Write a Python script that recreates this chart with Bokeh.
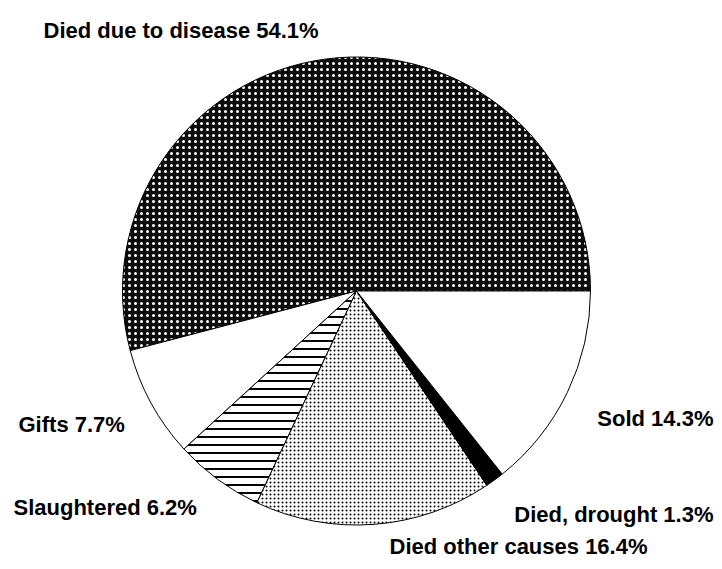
from bokeh.plotting import figure
from bokeh.models import Range1d, ColumnDataSource
from bokeh.core.properties import value
from bokeh.embed import file_html
from bokeh.resources import INLINE
import math

# ---- data ----
categories = ["Died due to disease", "Gifts", "Slaughtered",
              "Died other causes", "Died, drought", "Sold"]
percent = [54.1, 7.7, 6.2, 16.4, 1.3, 14.3]

# ---- styles ----
fills = ["#0c0c0c", "white", "white", "white", "black", "white"]
hatches = ["dot", " ", "horizontal_line", "dot", " ", " "]
hatch_colors = ["white", "black", "black", "black", "black", "black"]
hatch_scales = [6, 8, 8, 4, 8, 8]
hatch_weights = [1.0, 1, 2, 1, 1, 1]

# label layout (screen px: x, vertical centre y, alignment)
label_pos = {
    "Died due to disease": (43, 30, "left"),
    "Gifts": (18, 424, "left"),
    "Slaughtered": (13, 507, "left"),
    "Died other causes": (389, 546, "left"),
    "Died, drought": (713, 514, "right"),
    "Sold": (713, 418, "right"),
}

W, H = 714, 561
p = figure(width=W, height=H, output_backend="svg", toolbar_location=None,
           x_range=Range1d(0, W), y_range=Range1d(0, H),
           min_border=0)
p.axis.visible = False
p.grid.visible = False
p.outline_line_color = None
p.background_fill_color = "white"

total = sum(percent)
starts, ends = [], []
acc = 0.0
for v in percent:
    starts.append(2 * math.pi * acc / total)
    acc += v
    ends.append(2 * math.pi * acc / total)

cx, cy = 356, H - 290.5
src = ColumnDataSource(dict(start=starts, end=ends, fill=fills, hatch=hatches,
                            hc=hatch_colors, hs=hatch_scales, hw=hatch_weights))
p.wedge(x=cx, y=cy, radius=234, start_angle="start", end_angle="end",
        fill_color="fill", line_color="black", line_width=1,
        hatch_pattern="hatch", hatch_color="hc", hatch_scale="hs",
        hatch_weight="hw", source=src)

labels = [f"{c} {v}%" for c, v in zip(categories, percent)]
lx = [label_pos[c][0] for c in categories]
ly = [H - label_pos[c][1] for c in categories]
la = [label_pos[c][2] for c in categories]
tsrc = ColumnDataSource(dict(x=lx, y=ly, text=labels, align=la))
p.text(x="x", y="y", text="text", text_align="align", source=tsrc,
       text_font=value("Liberation Sans"), text_font_style="bold",
       text_font_size="22px", text_color="black", text_baseline="middle")

open("out.html", "w").write(file_html(p, INLINE))
